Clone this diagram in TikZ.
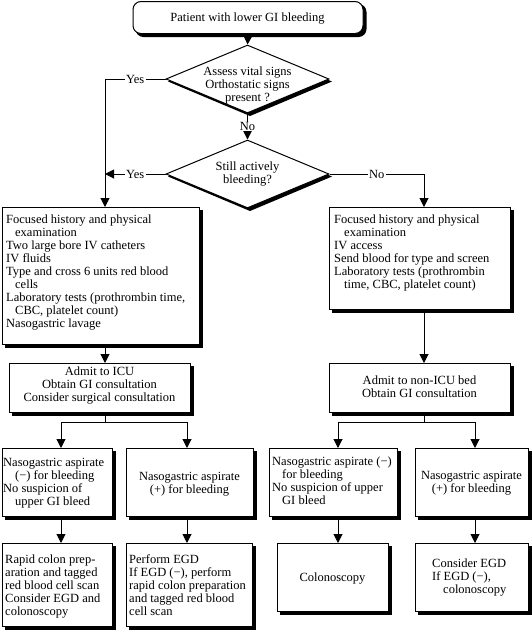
\documentclass[tikz,border=0pt]{standalone}
\usepackage{fontspec}
\setmainfont{Liberation Serif}
\usetikzlibrary{shapes.geometric,arrows.meta}
\pgfdeclarelayer{shadowlayer}
\pgfsetlayers{shadowlayer,main}
\begin{document}
\begin{tikzpicture}[x=1pt,y=-1pt,
  every node/.style={font=\fontsize{12.5}{12.9}\selectfont},
  boxshape/.style={draw, line width=1pt, fill=white, inner sep=0pt, anchor=north west},
  decision/.style={diamond, draw, line width=1pt, fill=white, inner sep=0pt,
     minimum width=163pt, minimum height=68pt},
  shadowfill/.style={fill=black},
  txt/.style={inner sep=0pt, anchor=base west, align=left},
  ctxt/.style={inner sep=0pt, anchor=base, align=center},
  conn/.style={line width=1pt, -{Triangle[width=9pt,length=9pt]}},
  plain/.style={line width=1pt},
  lab/.style={fill=white, inner sep=1.5pt},
]
\useasboundingbox (0,0) rectangle (532,633);

% top box
\node[boxshape, rounded corners=8pt, minimum width=230pt, minimum height=32pt] (start) at (132.5,1) {};
\node[ctxt] (startt) at (247.5,21) {Patient with lower GI bleeding};

% decisions
\node[decision] (d1) at (247.5,79) {};
\node[ctxt] (d1t) at (247.5,101.5) {Assess vital signs\\Orthostatic signs\\present ?};
\node[decision] (d2) at (247.5,174) {};
\node[ctxt] (d2t) at (247.5,183.5) {Still actively\\bleeding?};

% left big box
\node[boxshape, minimum width=197pt, minimum height=137pt] (b1) at (2,207) {};
\node[txt] (b1t) at (6,327) {Focused history and physical\\\hspace*{9pt}examination\\Two large bore IV catheters\\IV fluids\\Type and cross 6 units red blood\\\hspace*{9pt}cells\\Laboratory tests (prothrombin time,\\\hspace*{9pt}CBC, platelet count)\\Nasogastric lavage};

% right big box
\node[boxshape, minimum width=181pt, minimum height=102pt] (b2) at (329,207) {};
\node[txt] (b2t) at (334,288) {Focused history and physical\\\hspace*{10pt}examination\\IV access\\Send blood for type and screen\\Laboratory tests (prothrombin\\\hspace*{10pt}time, CBC, platelet count)};

% admit boxes
\node[boxshape, minimum width=181pt, minimum height=49pt] (a1) at (9,363) {};
\node[ctxt] (a1t) at (99.5,401.5) {Admit to ICU\\Obtain GI consultation\\Consider surgical consultation};
\node[boxshape, minimum width=181pt, minimum height=49pt] (a2) at (329,363) {};
\node[ctxt] (a2t) at (419.5,397) {Admit to non-ICU bed\\Obtain GI consultation};

% aspirate boxes
\node[boxshape, minimum width=110pt, minimum height=68pt] (l1) at (2,448) {};
\node[txt] (l1t) at (3,505.5) {Nasogastric aspirate\\\hspace*{12pt}(−) for bleeding\\No suspicion of\\\hspace*{12pt}upper GI bleed};
\node[boxshape, minimum width=127pt, minimum height=68pt] (l2) at (126,448) {};
\node[ctxt] (l2t) at (189.5,493) {Nasogastric aspirate\\(+) for bleeding};
\node[boxshape, minimum width=128pt, minimum height=68pt] (r1) at (269,448) {};
\node[txt] (r1t) at (272,504.5) {Nasogastric aspirate (−)\\\hspace*{10pt}for bleeding\\No suspicion of upper\\\hspace*{10pt}GI bleed};
\node[boxshape, minimum width=113pt, minimum height=68pt] (r2) at (415,448) {};
\node[ctxt] (r2t) at (471.5,492) {Nasogastric aspirate\\(+) for bleeding};

% final boxes
\node[boxshape, minimum width=110pt, minimum height=83pt] (l3) at (2,543) {};
\node[txt] (l3t) at (5,615.5) {Rapid colon prep-\\aration and tagged\\red blood cell scan\\Consider EGD and\\colonoscopy};
\node[boxshape, minimum width=126pt, minimum height=83pt] (l4) at (126,543) {};
\node[txt] (l4t) at (129,615.5) {Perform EGD\\If EGD (−), perform\\rapid colon preparation\\and tagged red blood\\cell scan};
\node[boxshape, minimum width=111pt, minimum height=68pt] (r3) at (277,543) {};
\node[ctxt] (r3t) at (332.5,581) {Colonoscopy};
\node[boxshape, minimum width=113pt, minimum height=68pt] (r4) at (415,543) {};
\node[txt] (r4t) at (432,593) {Consider EGD\\If EGD (−),\\\hspace*{11pt}colonoscopy};

% shadows
\begin{pgfonlayer}{shadowlayer}
\fill[shadowfill, rounded corners=8pt] ([shift={(3,3)}]start.north west) rectangle ([shift={(3,3)}]start.south east);
\foreach \b in {b1,b2,a1,a2,l1,l2,r1,r2,l3,l4,r3,r4}{
  \fill[shadowfill] ([shift={(3,3)}]\b.north west) rectangle ([shift={(3,3)}]\b.south east);
}
\foreach \d in {d1,d2}{
  \fill[shadowfill] ([shift={(2.5,2.5)}]\d.north) -- ([shift={(2.5,2.5)}]\d.east) -- ([shift={(2.5,2.5)}]\d.south) -- ([shift={(2.5,2.5)}]\d.west) -- cycle;
}
\end{pgfonlayer}

% coordinates
\coordinate (yesturn) at (105,79);
\coordinate (yes2) at (105,174);
\coordinate (noturn) at (424,174);
\coordinate (br1) at (105,422);
\coordinate (br1l) at (61,422);
\coordinate (br1r) at (187,422);
\coordinate (br2) at (424,422);
\coordinate (br2l) at (338,422);
\coordinate (br2r) at (475,422);

% connectors
\draw[conn] (start.south) -- (d1.north);
\draw[conn] (d1.west) -- node[lab]{Yes} (yesturn) -- (yesturn |- b1.north);
\draw[conn] (d1.south) -- node[lab, inner sep=0.5pt]{No} (d2.north);
\draw[conn] (d2.west) -- node[lab]{Yes} (yes2);
\draw[conn] (d2.east) -- node[lab]{No} (noturn) -- (noturn |- b2.north);

\draw[conn] (yesturn |- b1.south) -- (yesturn |- a1.north);
\draw[conn] (noturn |- b2.south) -- (noturn |- a2.north);

\draw[plain] (br1 |- a1.south) -- (br1);
\draw[plain] (br1l) -- (br1r);
\draw[conn] (br1l) -- (br1l |- l1.north);
\draw[conn] (br1r) -- (br1r |- l2.north);
\draw[plain] (br2 |- a2.south) -- (br2);
\draw[plain] (br2l) -- (br2r);
\draw[conn] (br2l) -- (br2l |- r1.north);
\draw[conn] (br2r) -- (br2r |- r2.north);

\draw[conn] (br1l |- l1.south) -- (br1l |- l3.north);
\draw[conn] (br1r |- l2.south) -- (br1r |- l4.north);
\draw[conn] (br2l |- r1.south) -- (br2l |- r3.north);
\draw[conn] (br2r |- r2.south) -- (br2r |- r4.north);
\end{tikzpicture}
\end{document}
